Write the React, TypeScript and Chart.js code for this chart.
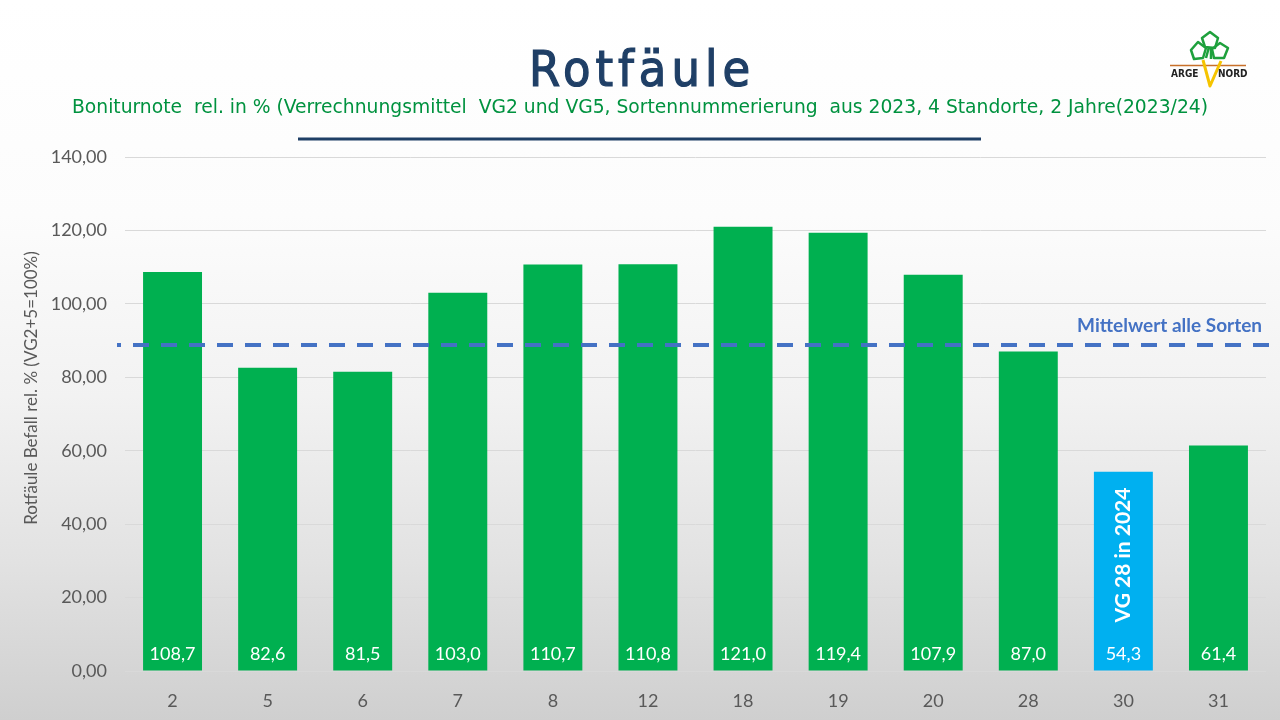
import React, { useEffect, useRef } from "react";
import { Chart, registerables } from "chart.js";

Chart.register(...registerables);

const categories = ["2", "5", "6", "7", "8", "12", "18", "19", "20", "28", "30", "31"];
const values = [108.7, 82.6, 81.5, 103.0, 110.7, 110.8, 121.0, 119.4, 107.9, 87.0, 54.3, 61.4];
const barColors = ["#00B050", "#00B050", "#00B050", "#00B050", "#00B050", "#00B050", "#00B050", "#00B050", "#00B050", "#00B050", "#00B0F0", "#00B050"];
const meanValue = 88.8;
const meanLabel = "Mittelwert alle Sorten";
const highlightIndex = 10;
const highlightLabel = "VG 28 in 2024";
const titleText = "Rotfäule";
const subtitleText = "Boniturnote  rel. in % (Verrechnungsmittel  VG2 und VG5, Sortennummerierung  aus 2023, 4 Standorte, 2 Jahre(2023/24)";
const yAxisTitle = "Rotfäule Befall rel. % (VG2+5=100%)";
const yMin = 0;
const yMax = 140;
const yStep = 20;

const fmt = (v: number, d: number) => v.toFixed(d).replace(".", ",");

const overlayPlugin = {
  id: "overlay",
  afterDatasetsDraw(chart: any) {
    const ctx = chart.ctx;
    const area = chart.chartArea;
    const ys = chart.scales.y;
    const meta = chart.getDatasetMeta(0);
    const base = ys.getPixelForValue(0);

    // value labels
    ctx.save();
    ctx.fillStyle = "#FFFFFF";
    ctx.font = "18px Lato";
    ctx.textAlign = "center";
    ctx.textBaseline = "middle";
    meta.data.forEach((bar: any, i: number) => {
      ctx.fillText(fmt(values[i], 1), bar.x, base - 17);
    });
    // highlight rotated label
    const hb = meta.data[highlightIndex];
    ctx.translate(hb.x, base - 116);
    ctx.rotate(-Math.PI / 2);
    ctx.font = "bold 21px Lato";
    ctx.fillText(highlightLabel, 0, 0);
    ctx.restore();

    // mean line
    const my = ys.getPixelForValue(meanValue);
    ctx.save();
    ctx.strokeStyle = "#4472C4";
    ctx.lineWidth = 4;
    ctx.setLineDash([16, 12]);
    ctx.lineDashOffset = 12;
    ctx.beginPath();
    ctx.moveTo(area.left - 8, my);
    ctx.lineTo(area.right + 4, my);
    ctx.stroke();
    ctx.setLineDash([]);
    ctx.fillStyle = "#4472C4";
    ctx.font = "bold 19px Lato";
    ctx.textAlign = "right";
    ctx.textBaseline = "middle";
    ctx.fillText(meanLabel, area.right - 4, my - 19);
    ctx.restore();
  },
  afterDraw(chart: any) {
    const ctx = chart.ctx;
    ctx.save();
    // title
    ctx.fillStyle = "#1F3F66";
    ctx.strokeStyle = "#1F3F66";
    ctx.lineWidth = 1.2;
    ctx.font = "50px 'DejaVu Sans Condensed'";
    (ctx as any).letterSpacing = "5px";
    ctx.textAlign = "center";
    ctx.textBaseline = "alphabetic";
    ctx.fillText(titleText, 642, 86);
    ctx.strokeText(titleText, 642, 86);
    (ctx as any).letterSpacing = "0px";
    // subtitle
    ctx.fillStyle = "#00923F";
    ctx.font = "19px 'DejaVu Sans Condensed'";
    const w = ctx.measureText(subtitleText).width;
    const target = 1136;
    ctx.save();
    ctx.translate(640, 113);
    ctx.scale(target / w, 1);
    ctx.fillText(subtitleText, 0, 0);
    ctx.restore();
    // underline bar
    ctx.fillStyle = "#1F3F66";
    ctx.fillRect(298, 137.5, 683, 3);
    // y axis title
    ctx.save();
    ctx.translate(32, 388);
    ctx.rotate(-Math.PI / 2);
    ctx.fillStyle = "#595959";
    ctx.font = "17px Lato";
    ctx.textAlign = "center";
    ctx.textBaseline = "middle";
    ctx.fillText(yAxisTitle, 0, 0);
    ctx.restore();

    // logo
    ctx.strokeStyle = "#C8702A";
    ctx.lineWidth = 1.5;
    ctx.beginPath();
    ctx.moveTo(1170, 65.5);
    ctx.lineTo(1246, 65.5);
    ctx.stroke();
    ctx.strokeStyle = "#1EA03C";
    ctx.lineWidth = 2.5;
    ctx.lineJoin = "round";
    const leaves = [
      [[1191, 50], [1198, 42], [1206, 48], [1203, 58], [1194, 59]],
      [[1202, 38], [1210, 32], [1218, 38], [1215, 48], [1205, 47]],
      [[1212, 49], [1220, 43], [1228, 48], [1224, 58], [1214, 58]],
    ];
    leaves.forEach((pts) => {
      ctx.beginPath();
      ctx.moveTo(pts[0][0], pts[0][1]);
      for (let k = 1; k < pts.length; k++) ctx.lineTo(pts[k][0], pts[k][1]);
      ctx.closePath();
      ctx.stroke();
    });
    ctx.beginPath();
    ctx.moveTo(1206, 58);
    ctx.lineTo(1209, 47);
    ctx.moveTo(1211, 59);
    ctx.lineTo(1211, 47);
    ctx.stroke();
    ctx.strokeStyle = "#F5C400";
    ctx.lineWidth = 3;
    ctx.beginPath();
    ctx.moveTo(1203, 60);
    ctx.lineTo(1210, 86);
    ctx.lineTo(1221, 61);
    ctx.stroke();
    ctx.fillStyle = "#222222";
    ctx.font = "bold 10px 'DejaVu Sans Condensed'";
    ctx.textAlign = "left";
    ctx.textBaseline = "middle";
    ctx.fillText("ARGE", 1171, 74);
    ctx.fillText("NORD", 1218, 74);
    ctx.restore();
  },
};

export default function App() {
  const ref = useRef<HTMLCanvasElement | null>(null);
  useEffect(() => {
    document.body.style.margin = "0";
    const canvas = ref.current!;
    const chart = new Chart(canvas, {
      type: "bar",
      data: {
        labels: categories,
        datasets: [
          {
            data: values,
            backgroundColor: barColors,
            borderWidth: 0,
            categoryPercentage: 1,
            barPercentage: 0.62,
          },
        ],
      },
      options: {
        animation: false,
        responsive: false,
        devicePixelRatio: 1,
        layout: { padding: { top: 157, right: 14, left: 0, bottom: 0 } },
        plugins: {
          legend: { display: false },
          tooltip: { enabled: false },
          title: { display: false },
        },
        scales: {
          x: {
            grid: { display: false, drawTicks: false },
            border: { display: false },
            ticks: { color: "#595959", font: { family: "Lato", size: 18 }, padding: 19 },
            afterFit: (s: any) => {
              s.height = 49;
            },
          },
          y: {
            min: yMin,
            max: yMax,
            grid: { color: "#D9D9D9", lineWidth: 1, drawTicks: false },
            border: { display: false },
            ticks: {
              stepSize: yStep,
              color: "#595959",
              font: { family: "Lato", size: 18 },
              padding: 18,
              callback: (v: any) => fmt(Number(v), 2),
            },
            afterFit: (s: any) => {
              s.width = 125;
            },
          },
        },
      },
      plugins: [overlayPlugin],
    });
    return () => chart.destroy();
  }, []);
  return (
    <div
      style={{
        position: "fixed",
        left: 0,
        top: 0,
        width: 1280,
        height: 720,
        background: "linear-gradient(180deg, #ffffff 0%, #fcfcfc 30%, #f2f2f2 55%, #e2e2e2 78%, #cfcfcf 100%)",
      }}
    >
      <canvas ref={ref} width={1280} height={720} style={{ display: "block" }} />
    </div>
  );
}
